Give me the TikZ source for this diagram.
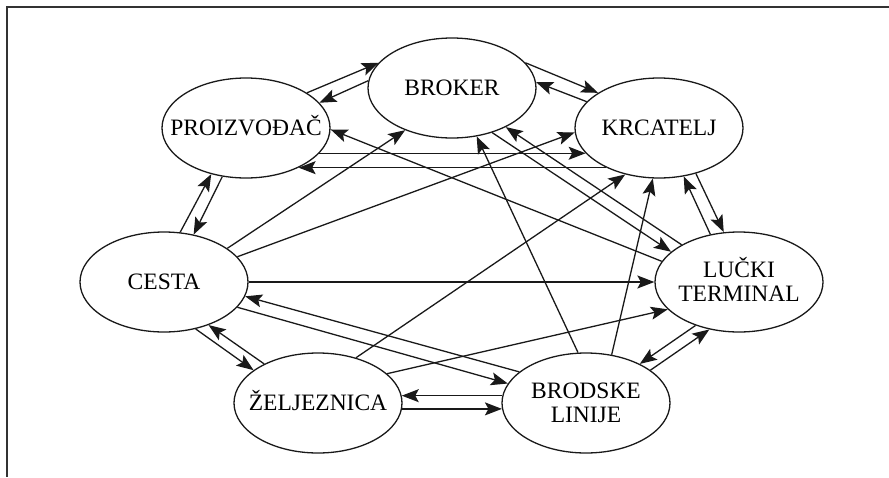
\documentclass[tikz,border=0pt]{standalone}
\usepackage{fontspec}
\setmainfont{Liberation Serif}
\usetikzlibrary{arrows.meta,shapes.geometric}
\begin{document}
\begin{tikzpicture}[x=1pt,y=-1pt,
  ent/.style={ellipse,draw=black!90,line width=1.3pt,minimum width=168pt,minimum height=100pt,
    inner sep=0pt,font=\fontsize{23.5}{24}\selectfont,text height=15.4pt,text depth=0pt},
  ent2/.style={ent,text height=39.4pt},
  arr/.style={draw=black!90,line width=1.3pt,-{Stealth[length=17pt,width=13pt,inset=3.5pt]}}]
\useasboundingbox (0,0) rectangle (889,477);
\draw[line width=1.4pt,black!80] (889,7) -- (7,7) -- (7,477);
\node[ent] (P) at (246,128) {\makebox[0pt]{PROIZVOĐAČ}};
\node[ent] (B) at (452,88) {\makebox[0pt]{BROKER}};
\node[ent] (K) at (659,128) {\makebox[0pt]{KRCATELJ}};
\node[ent] (C) at (164,282) {\makebox[0pt]{CESTA}};
\node[ent2] (L) at (739,282) {\makebox[0pt]{\begin{tabular}[b]{@{}c@{}}LUČKI\\TERMINAL\end{tabular}}};
\node[ent] (Z) at (318,403) {\makebox[0pt]{ŽELJEZNICA}};
\node[ent2] (R) at (586,403) {\makebox[0pt]{\begin{tabular}[b]{@{}c@{}}BRODSKE\\LINIJE\end{tabular}}};
% neighbours
\draw[arr] (P.30) -- (B.161);
\draw[arr] (B.175) -- (P.19);
\draw[arr] (B.19) -- (K.150);
\draw[arr] (K.160) -- (B.4);
\draw[arr] (P.341) -- (K.199);
\draw[arr] (K.217) -- (P.323);
\draw[arr] (C.72) -- (P.233);
\draw[arr] (P.244) -- (C.58);
\draw[arr] (L.121) -- (K.297);
\draw[arr] (K.309) -- (L.107);
\draw[arr] (C.304) -- (Z.153);
\draw[arr] (Z.144) -- (C.316);
\draw[arr] (R.175) -- (Z.5);
\draw[arr] (Z.356) -- (R.184);
\draw[arr] (L.225) -- (R.36);
\draw[arr] (R.27) -- (L.238);
% cross links
\draw[arr] (C.east) -- (L.west);
\draw[arr] (R.155) -- (C.350);
\draw[arr] (C.341) -- (R.166);
\draw[arr] (C.28) -- (B.222);
\draw[arr] (C.19) -- (K.183);
\draw[arr] (L.165) -- (P.359);
\draw[arr] (B.312) -- (L.156);
\draw[arr] (L.147) -- (B.324);
\draw[arr] (R.99) -- (B.297);
\draw[arr] (R.62) -- (K.263);
\draw[arr] (Z.50) -- (K.234);
\draw[arr] (Z.23) -- (L.201);
\end{tikzpicture}
\end{document}
